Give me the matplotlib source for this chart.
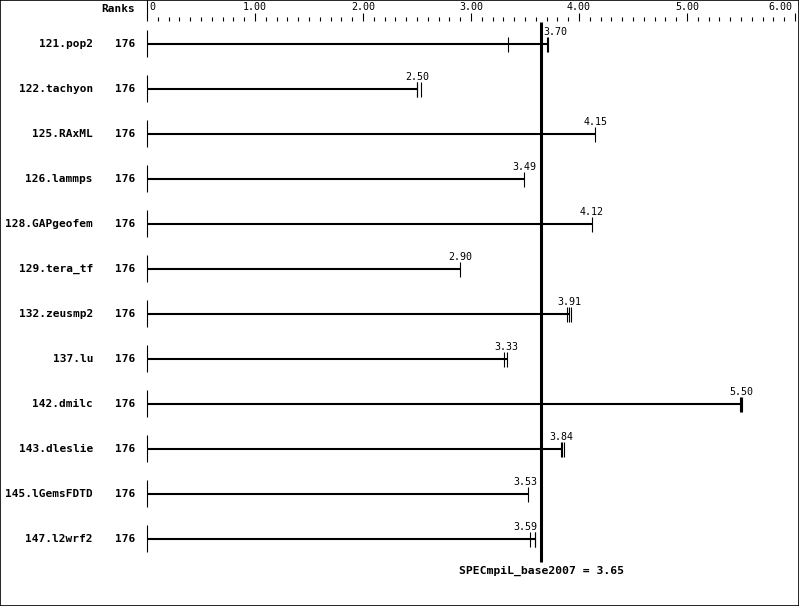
import matplotlib
matplotlib.use('Agg')
import matplotlib.pyplot as plt
import numpy as np

# 数据
names = ['121.pop2', '122.tachyon', '125.RAxML', '126.lammps', '128.GAPgeofem',
         '129.tera_tf', '132.zeusmp2', '137.lu', '142.dmilc', '143.dleslie',
         '145.lGemsFDTD', '147.l2wrf2']
ranks = [176] * 12
medians = [3.70, 2.50, 4.15, 3.49, 4.12, 2.90, 3.91, 3.33, 5.50, 3.84, 3.53, 3.59]
runs = [[3.34, 3.70, 3.71],
        [2.50, 2.50, 2.54],
        [4.15],
        [3.49],
        [4.12],
        [2.90],
        [3.89, 3.91, 3.93],
        [3.31, 3.33],
        [5.49, 5.50, 5.51],
        [3.83, 3.84, 3.86],
        [3.53],
        [3.55, 3.59, 3.59]]
overall = 3.65
overall_label = 'SPECmpiL_base2007 = 3.65'
tick_labels = ['0', '1.00', '2.00', '3.00', '4.00', '5.00', '6.00']

# 像素换算
PXU = 108.0    # 每单位像素
X0 = 147.0     # 0 所在像素
ROW0, ROWH = 44.0, 45.0
W, H = 799, 606

def dx(px):
    return px / PXU

def yrow(px):
    return (px - ROW0) / ROWH

mono = ['DejaVu Sans Mono']

fig = plt.figure(figsize=(W / 100, H / 100), dpi=100)
ax = fig.add_axes([0, 0, 1, 1])
ax.set_xlim(-X0 / PXU, (W - X0) / PXU)
ax.set_ylim(yrow(H), yrow(0))
ax.set_xticks([])
ax.set_yticks([])
for s in ax.spines.values():
    s.set_linewidth(1.2)
    s.set_color('black')

# 顶部刻度
ax.vlines(0, yrow(0), yrow(21), color='black', lw=0.8)
minor = np.round(np.arange(0.1, 6.0, 0.1), 2)
minor = [m for m in minor if abs(m - round(m)) > 1e-6]
ax.vlines(minor, yrow(17), yrow(21), color='black', lw=0.8)
ax.vlines(np.arange(1, 7), yrow(13), yrow(21), color='black', lw=0.8)
for i, t in enumerate(tick_labels):
    ha = 'center'
    x = i
    if i == 0:
        ha = 'left'
        x = dx(2)
    elif i == 6:
        ha = 'right'
        x = 6 - dx(3)
    ax.text(x, yrow(7), t, ha=ha, va='center', fontsize=7.2, family=mono)

ax.text(-dx(X0 - 135), yrow(9), 'Ranks', ha='right', va='center',
        fontsize=8, fontweight='bold', family=mono)

# 各行
for i, name in enumerate(names):
    ax.text(-dx(X0 - 93), i, name, ha='right', va='center',
            fontsize=8, fontweight='bold', family=mono)
    ax.text(-dx(X0 - 135), i, str(ranks[i]), ha='right', va='center',
            fontsize=8, fontweight='bold', family=mono)
    ax.vlines(0, i - dx(0) - 14 / ROWH, i + 13 / ROWH, color='black', lw=0.8)
    ax.hlines(i, 0, medians[i], color='black', lw=1.5)
    ax.vlines(runs[i], i - 7 / ROWH, i + 8 / ROWH, color='black', lw=0.8)
    # 数值标签，避开参考线
    lab = '%.2f' % medians[i]
    m = medians[i]
    if abs(m - overall) * PXU < 14:
        if m >= overall:
            ax.text(overall + dx(2), i - 12 / ROWH, lab, ha='left', va='center',
                    fontsize=7.2, family=mono)
        else:
            ax.text(overall - dx(4), i - 12 / ROWH, lab, ha='right', va='center',
                    fontsize=7.2, family=mono)
    else:
        ax.text(m, i - 12 / ROWH, lab, ha='center', va='center',
                fontsize=7.2, family=mono)

# 参考线
ax.vlines(overall, yrow(22), yrow(562), color='black', lw=2.2)
ax.text(overall, yrow(571), overall_label, ha='center', va='center',
        fontsize=8.2, fontweight='bold', family=mono)

fig.savefig('out.png', dpi=100)
